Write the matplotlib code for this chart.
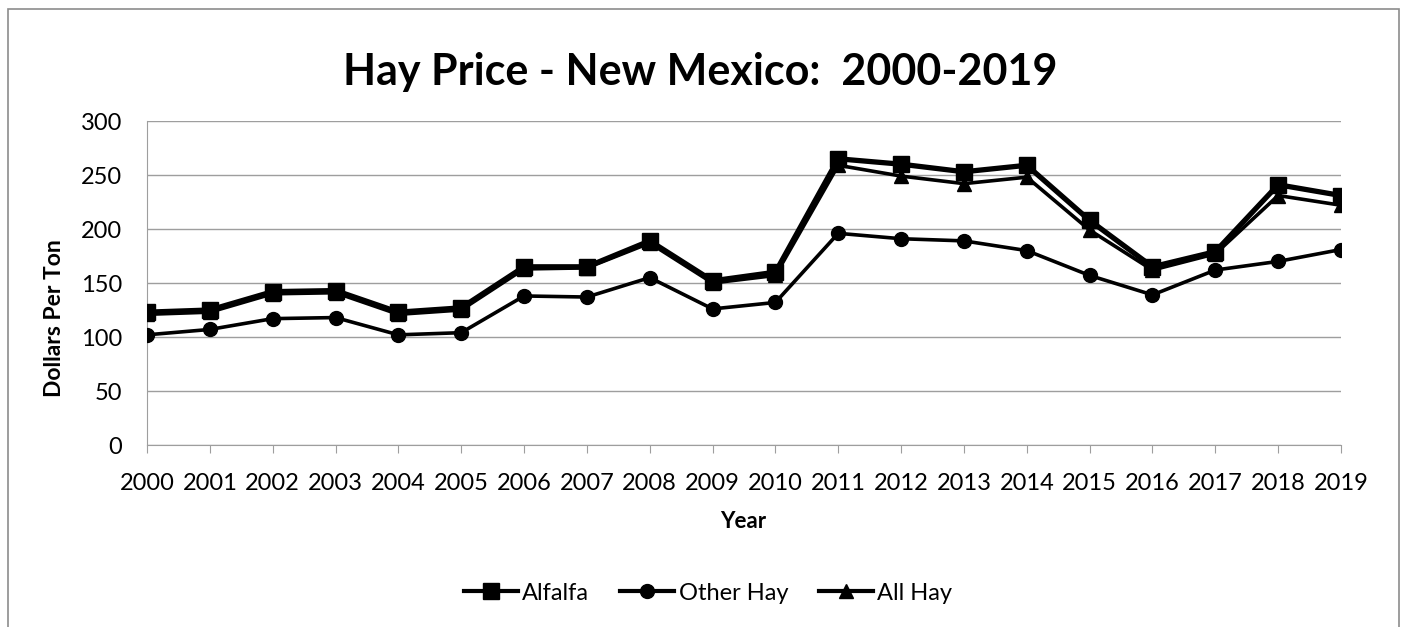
import matplotlib.pyplot as plt
from matplotlib.patches import Rectangle

years = list(range(2000, 2020))
alfalfa = [123, 125, 142, 143, 123, 127, 165, 165, 189, 152,
           160, 265, 260, 253, 259, 208, 165, 179, 241, 231]
other_hay = [102, 107, 117, 118, 102, 104, 138, 137, 155, 126,
             132, 196, 191, 189, 180, 157, 139, 162, 170, 181]
all_hay = [121, 123, 140, 141, 121, 125, 163, 164, 187, 150,
           157, 259, 249, 242, 248, 199, 162, 177, 231, 222]

plt.rcParams['font.family'] = ['Lato', 'DejaVu Sans']

W, H = 1401, 627
fig = plt.figure(figsize=(W / 100, H / 100), dpi=100)
ax = fig.add_axes([147 / W, 1 - 445 / H, 1194 / W, 324 / H])

# chart border
fig.patches.append(Rectangle((8 / W, -0.01), 1391 / W, 1 - 9 / H + 0.01,
                             transform=fig.transFigure, fill=False,
                             edgecolor='#8c8c8c', lw=1.2))

ax.plot(years, alfalfa, color='black', lw=3.8, marker='s', ms=11, label='Alfalfa', zorder=4)
ax.plot(years, other_hay, color='black', lw=2.6, marker='o', ms=10, label='Other Hay', zorder=3)
ax.plot(years, all_hay, color='black', lw=2.6, marker='^', ms=10, label='All Hay', zorder=3)

ax.set_xlim(2000, 2019)
ax.set_ylim(0, 300)
ax.set_yticks(range(0, 301, 50))
ax.set_xticks(years)
ax.grid(axis='y', color='#9e9e9e', lw=1)
ax.set_axisbelow(True)
for s in ['top', 'right']:
    ax.spines[s].set_visible(False)
for s in ['left', 'bottom']:
    ax.spines[s].set_color('#9e9e9e')
ax.tick_params(axis='x', direction='out', length=6, color='#9e9e9e', labelsize=17, pad=14)
ax.tick_params(axis='y', length=0, labelsize=17, pad=18)

fig.text(743 / W, 1 - 521 / H, 'Year', ha='center', va='center',
         fontsize=16, fontweight='bold')
fig.text(55 / W, 1 - 318 / H, 'Dollars Per Ton', ha='center', va='center',
         rotation=90, fontsize=16.5, fontweight='bold')
fig.text(0.5, 1 - 72 / H, 'Hay Price - New Mexico:  2000-2019', ha='center', va='center',
         fontsize=31, fontweight='bold')

leg = fig.legend(loc='center', bbox_to_anchor=(708 / W, 1 - 593 / H), ncol=3, frameon=False,
                 fontsize=17, handlelength=2.3, columnspacing=1.3, handletextpad=0.18)
for line in leg.get_lines():
    line.set_linewidth(3)

fig.savefig('out.png', dpi=100)
